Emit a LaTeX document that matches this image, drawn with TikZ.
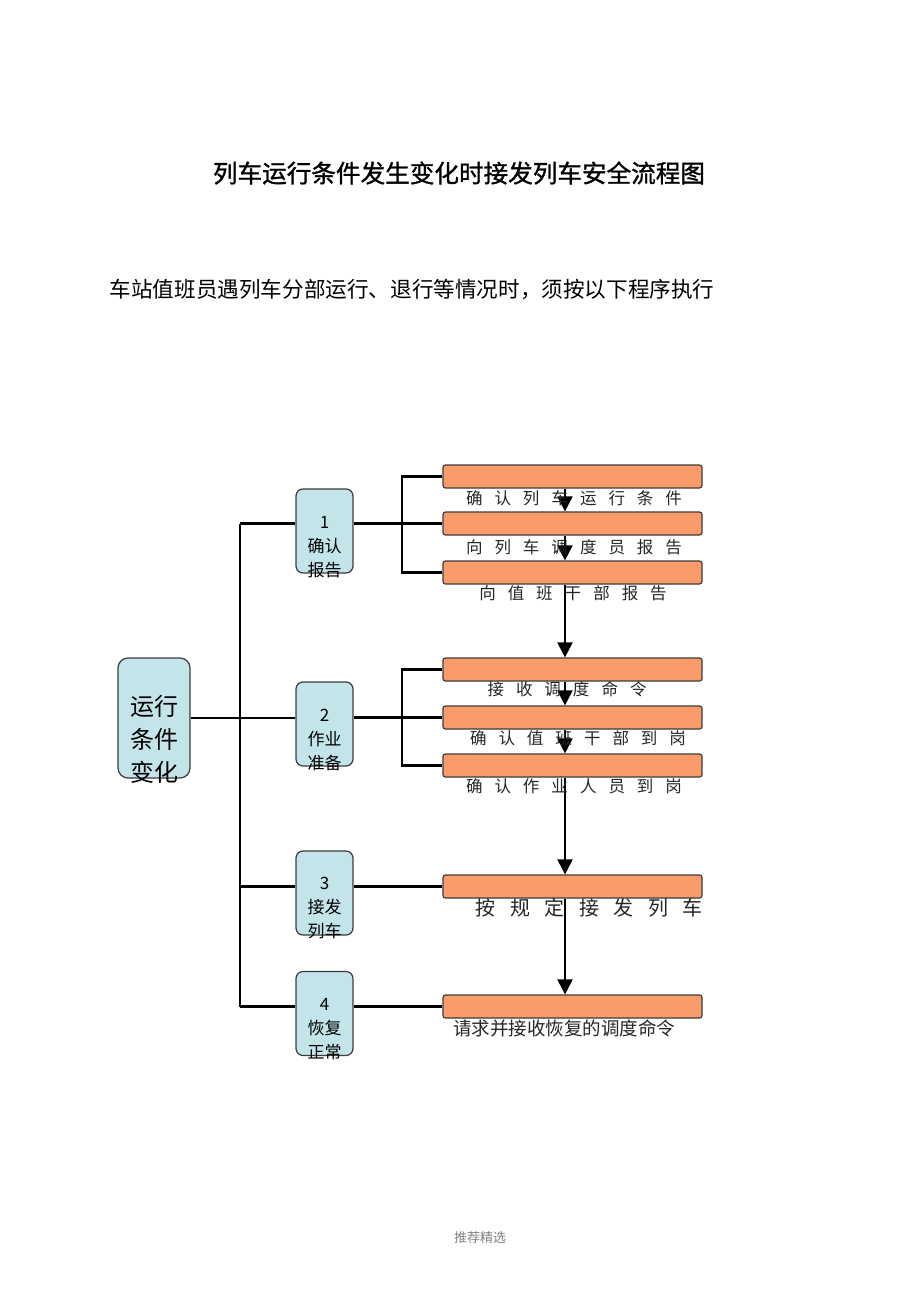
\documentclass[tikz,border=0pt]{standalone}
\usepackage{fontspec}
\setmainfont{Noto Sans CJK SC}
\newfontfamily\titlefont[FakeBold=1.2]{Noto Sans CJK SC}
\usetikzlibrary{arrows.meta}
\definecolor{boxblue}{RGB}{195,228,232}
\definecolor{boxorange}{RGB}{250,155,105}
\definecolor{edgegray}{RGB}{60,60,60}
\newcommand{\gp}{\hspace{12pt}}
\newcommand{\gq}{\hspace{14.5pt}}
\begin{document}
\begin{tikzpicture}[x=1pt,y=-1pt,
  bluebox/.style={draw=edgegray,line width=1.2pt,fill=boxblue,rounded corners=7pt,inner sep=0pt},
  orangebox/.style={draw=edgegray,line width=1.2pt,fill=boxorange,rounded corners=2.5pt,minimum width=259pt,minimum height=23pt,inner sep=0pt},
  conn/.style={line width=2.1pt,black},
  arr/.style={line width=2.1pt,black,-{Triangle[width=15pt,length=15pt]}},
  lbl/.style={inner sep=0pt,font=\fontsize{16.5}{16.5}\selectfont,text=black!85},
  boxtxt/.style={inner sep=0pt,align=center,font=\fontsize{17}{24}\selectfont},
]
\useasboundingbox (0,0) rectangle (920,1303);
\fill[white] (0,0) rectangle (920,1303);

% titles
\node[inner sep=0pt,font=\titlefont\fontsize{24.6}{24.6}\selectfont] (title) at (459,173) {列车运行条件发生变化时接发列车安全流程图};
\node[inner sep=0pt,font=\fontsize{21.6}{21.6}\selectfont] (sub) at (412,290) {车站值班员遇列车分部运行、退行等情况时，须按以下程序执行};

% main box
\node[bluebox,rounded corners=10pt,minimum width=72pt,minimum height=120pt] (big) at (154,718) {};
\node[boxtxt,font=\fontsize{24}{33}\selectfont] (bigt) at (154,739) {运行\\条件\\变化};

% small boxes
\node[bluebox,minimum width=57pt,minimum height=84pt] (s1) at (324.5,531) {};
\node[bluebox,minimum width=57pt,minimum height=84pt] (s2) at (324.5,724) {};
\node[bluebox,minimum width=57pt,minimum height=84pt] (s3) at (324.5,893) {};
\node[bluebox,minimum width=57pt,minimum height=84pt] (s4) at (324.5,1013.5) {};
\node[boxtxt] (s1t) at (324.5,547) {1\\确认\\报告};
\node[boxtxt] (s2t) at (324.5,740) {2\\作业\\准备};
\node[boxtxt] (s3t) at (324.5,908) {3\\接发\\列车};
\node[boxtxt] (s4t) at (324.5,1029) {4\\恢复\\正常};

% orange boxes
\node[orangebox] (oa) at (572.5,476.5) {};
\node[orangebox] (ob) at (572.5,523.5) {};
\node[orangebox] (oc) at (572.5,572.5) {};
\node[orangebox] (od) at (572.5,669.5) {};
\node[orangebox] (oe) at (572.5,717.5) {};
\node[orangebox] (of) at (572.5,765.5) {};
\node[orangebox] (og) at (572.5,886.5) {};
\node[orangebox] (oh) at (572.5,1006.5) {};

% trunk coordinates
\coordinate (t1) at (240,523.5);
\coordinate (t2) at (240,718);
\coordinate (t3) at (240,886.5);
\coordinate (t4) at (240,1006.5);
\coordinate (k1) at (402,523.5);
\coordinate (k2) at (402,717.5);

% left tree
\draw[conn] (big.east |- t2) -- (t2);
\draw[conn] (t1) -- (t4);
\draw[conn] (t1) -- (t1 -| s1.west);
\draw[conn] (t2) -- (t2 -| s2.west);
\draw[conn] (t3) -- (t3 -| s3.west);
\draw[conn] (t4) -- (t4 -| s4.west);

% brackets
\draw[conn] (s1.east |- k1) -- (k1) -- (ob.west);
\draw[conn] (oa.west) -- (oa.west -| k1) -- (oc.west -| k1) -- (oc.west);
\draw[conn] (s2.east |- k2) -- (k2) -- (oe.west);
\draw[conn] (od.west) -- (od.west -| k2) -- (of.west -| k2) -- (of.west);
\draw[conn] (s3.east |- og.west) -- (og.west);
\draw[conn] (s4.east |- oh.west) -- (oh.west);

% arrows
\draw[arr] ([xshift=-7.5pt]oa.south) -- ([xshift=-7.5pt]ob.north);
\draw[arr] ([xshift=-7.5pt]ob.south) -- ([xshift=-7.5pt]oc.north);
\draw[arr] ([xshift=-7.5pt]oc.south) -- ([xshift=-7.5pt]od.north);
\draw[arr] ([xshift=-7.5pt]od.south) -- ([xshift=-7.5pt]oe.north);
\draw[arr] ([xshift=-7.5pt]oe.south) -- ([xshift=-7.5pt]of.north);
\draw[arr] ([xshift=-7.5pt]of.south) -- ([xshift=-7.5pt]og.north);
\draw[arr] ([xshift=-7.5pt]og.south) -- ([xshift=-7.5pt]oh.north);

% labels under orange boxes
\node[lbl] (la) at (574,498) {确\gp 认\gp 列\gp 车\gp 运\gp 行\gp 条\gp 件};
\node[lbl] (lb) at (574,547) {向\gp 列\gp 车\gp 调\gp 度\gp 员\gp 报\gp 告};
\node[lbl] (lc) at (573,593) {向\gp 值\gp 班\gp 干\gp 部\gp 报\gp 告};
\node[lbl] (ld) at (567,689) {接\gp 收\gp 调\gp 度\gp 命\gp 令};
\node[lbl] (le) at (578,738) {确\gp 认\gp 值\gp 班\gp 干\gp 部\gp 到\gp 岗};
\node[lbl] (lf) at (574,786) {确\gp 认\gp 作\gp 业\gp 人\gp 员\gp 到\gp 岗};
\node[lbl,font=\fontsize{20}{20}\selectfont] (lg) at (589,908) {按\gq 规\gq 定\gq 接\gq 发\gq 列\gq 车};
\node[lbl,font=\fontsize{18.5}{18.5}\selectfont] (lh) at (564,1028) {请求并接收恢复的调度命令};

% footer
\node[inner sep=0pt,font=\fontsize{13}{13}\selectfont,text=black!50] (foot) at (480,1238) {推荐精选};
\end{tikzpicture}
\end{document}
